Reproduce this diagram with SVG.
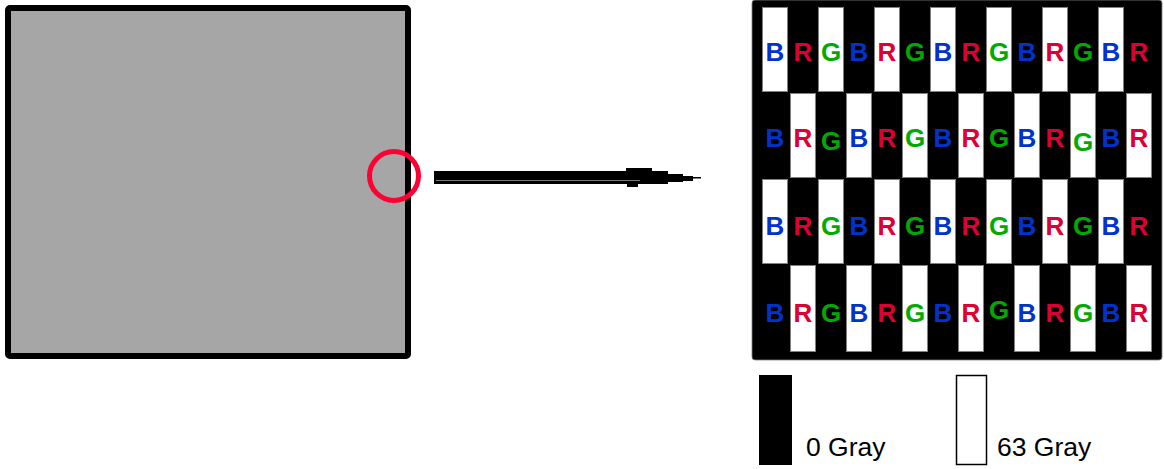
<svg xmlns="http://www.w3.org/2000/svg" width="1164" height="469" viewBox="0 0 1164 469">
<style>
  .lt{font-family:"Liberation Sans",Arial,sans-serif;font-weight:bold;font-size:26px;text-anchor:middle}
  .b{fill:#0033cc}
  .r{fill:#dd0033}
  .g{fill:#00aa00}
  .cell{fill:#ffffff;stroke:#808080;stroke-width:1}
  .cap{font-family:"Liberation Sans",Arial,sans-serif;font-size:26.5px;fill:#000000}
</style>
<rect width="1164" height="469" fill="#ffffff"/>

<g id="panel">
  <rect x="8" y="8" width="400" height="348" rx="2" fill="#a6a6a6" stroke="#000000" stroke-width="6"/>
  <circle cx="394" cy="176" r="24.5" fill="none" stroke="#ff0033" stroke-width="5"/>
</g>

<g id="connectors">
  <g id="probe">
    <polygon fill="#000000" points="434,171 626,171 626,168 652,168 652,171 668,171 668,174 683,174 683,176 693,176 693,177 701,177 701,178.5 693,178.5 693,181 683,181 683,182 668,182 668,184 652,184 638,184 638,187 627,187 627,184 434,184"/>
    <line x1="436" y1="180.5" x2="640" y2="180.5" stroke="#9a9a9a" stroke-width="0.8"/>
  </g>
</g>

<g id="grid">
  <rect x="752" y="0" width="410" height="360" rx="3" fill="#000000" stroke="#808080" stroke-width="0.8"/>
  <g id="row1">
    <rect class="cell" x="762.5" y="7.5" width="25" height="84"/>
    <rect class="cell" x="818.5" y="7.5" width="25" height="84"/>
    <rect class="cell" x="874.5" y="7.5" width="25" height="84"/>
    <rect class="cell" x="930.5" y="7.5" width="25" height="84"/>
    <rect class="cell" x="986.5" y="7.5" width="25" height="84"/>
    <rect class="cell" x="1042.5" y="7.5" width="25" height="84"/>
    <rect class="cell" x="1098.5" y="7.5" width="25" height="84"/>
    <text class="lt b" x="775" y="61">B</text>
    <text class="lt r" x="803" y="61">R</text>
    <text class="lt g" x="831" y="61">G</text>
    <text class="lt b" x="859" y="61">B</text>
    <text class="lt r" x="887" y="61">R</text>
    <text class="lt g" x="915" y="61">G</text>
    <text class="lt b" x="943" y="61">B</text>
    <text class="lt r" x="971" y="61">R</text>
    <text class="lt g" x="999" y="61">G</text>
    <text class="lt b" x="1027" y="61">B</text>
    <text class="lt r" x="1055" y="61">R</text>
    <text class="lt g" x="1083" y="61">G</text>
    <text class="lt b" x="1111" y="61">B</text>
    <text class="lt r" x="1139" y="61">R</text>
  </g>
  <g id="row2">
    <rect class="cell" x="790.5" y="93.5" width="25" height="84"/>
    <rect class="cell" x="846.5" y="93.5" width="25" height="84"/>
    <rect class="cell" x="902.5" y="93.5" width="25" height="84"/>
    <rect class="cell" x="958.5" y="93.5" width="25" height="84"/>
    <rect class="cell" x="1014.5" y="93.5" width="25" height="84"/>
    <rect class="cell" x="1070.5" y="93.5" width="25" height="84"/>
    <rect class="cell" x="1126.5" y="93.5" width="25" height="84"/>
    <text class="lt b" x="775" y="147">B</text>
    <text class="lt r" x="803" y="147">R</text>
    <text class="lt g" x="831" y="150">G</text>
    <text class="lt b" x="859" y="147">B</text>
    <text class="lt r" x="887" y="147">R</text>
    <text class="lt g" x="915" y="147">G</text>
    <text class="lt b" x="943" y="147">B</text>
    <text class="lt r" x="971" y="147">R</text>
    <text class="lt g" x="999" y="147">G</text>
    <text class="lt b" x="1027" y="147">B</text>
    <text class="lt r" x="1055" y="147">R</text>
    <text class="lt g" x="1083" y="151">G</text>
    <text class="lt b" x="1111" y="147">B</text>
    <text class="lt r" x="1139" y="147">R</text>
  </g>
  <g id="row3">
    <rect class="cell" x="762.5" y="179.5" width="25" height="84"/>
    <rect class="cell" x="818.5" y="179.5" width="25" height="84"/>
    <rect class="cell" x="874.5" y="179.5" width="25" height="84"/>
    <rect class="cell" x="930.5" y="179.5" width="25" height="84"/>
    <rect class="cell" x="986.5" y="179.5" width="25" height="84"/>
    <rect class="cell" x="1042.5" y="179.5" width="25" height="84"/>
    <rect class="cell" x="1098.5" y="179.5" width="25" height="84"/>
    <text class="lt b" x="775" y="235">B</text>
    <text class="lt r" x="803" y="235">R</text>
    <text class="lt g" x="831" y="235">G</text>
    <text class="lt b" x="859" y="235">B</text>
    <text class="lt r" x="887" y="235">R</text>
    <text class="lt g" x="915" y="235">G</text>
    <text class="lt b" x="943" y="235">B</text>
    <text class="lt r" x="971" y="235">R</text>
    <text class="lt g" x="999" y="235">G</text>
    <text class="lt b" x="1027" y="235">B</text>
    <text class="lt r" x="1055" y="235">R</text>
    <text class="lt g" x="1083" y="235">G</text>
    <text class="lt b" x="1111" y="235">B</text>
    <text class="lt r" x="1139" y="235">R</text>
  </g>
  <g id="row4">
    <rect class="cell" x="790.5" y="265.5" width="25" height="86"/>
    <rect class="cell" x="846.5" y="265.5" width="25" height="86"/>
    <rect class="cell" x="902.5" y="265.5" width="25" height="86"/>
    <rect class="cell" x="958.5" y="265.5" width="25" height="86"/>
    <rect class="cell" x="1014.5" y="265.5" width="25" height="86"/>
    <rect class="cell" x="1070.5" y="265.5" width="25" height="86"/>
    <rect class="cell" x="1126.5" y="265.5" width="25" height="86"/>
    <text class="lt b" x="775" y="322">B</text>
    <text class="lt r" x="803" y="322">R</text>
    <text class="lt g" x="831" y="322">G</text>
    <text class="lt b" x="859" y="322">B</text>
    <text class="lt r" x="887" y="322">R</text>
    <text class="lt g" x="915" y="322">G</text>
    <text class="lt b" x="943" y="322">B</text>
    <text class="lt r" x="971" y="322">R</text>
    <text class="lt g" x="999" y="319">G</text>
    <text class="lt b" x="1027" y="322">B</text>
    <text class="lt r" x="1055" y="322">R</text>
    <text class="lt g" x="1083" y="322">G</text>
    <text class="lt b" x="1111" y="322">B</text>
    <text class="lt r" x="1139" y="322">R</text>
  </g>
</g>

<g id="legend-black">
  <rect x="759" y="375" width="33" height="90" fill="#000000"/>
  <text class="cap" x="806" y="456">0 Gray</text>
</g>
<g id="legend-white">
  <rect x="956.5" y="375.5" width="30" height="89" fill="#ffffff" stroke="#000000" stroke-width="1.5"/>
  <text class="cap" x="997" y="456">63 Gray</text>
</g>
</svg>
